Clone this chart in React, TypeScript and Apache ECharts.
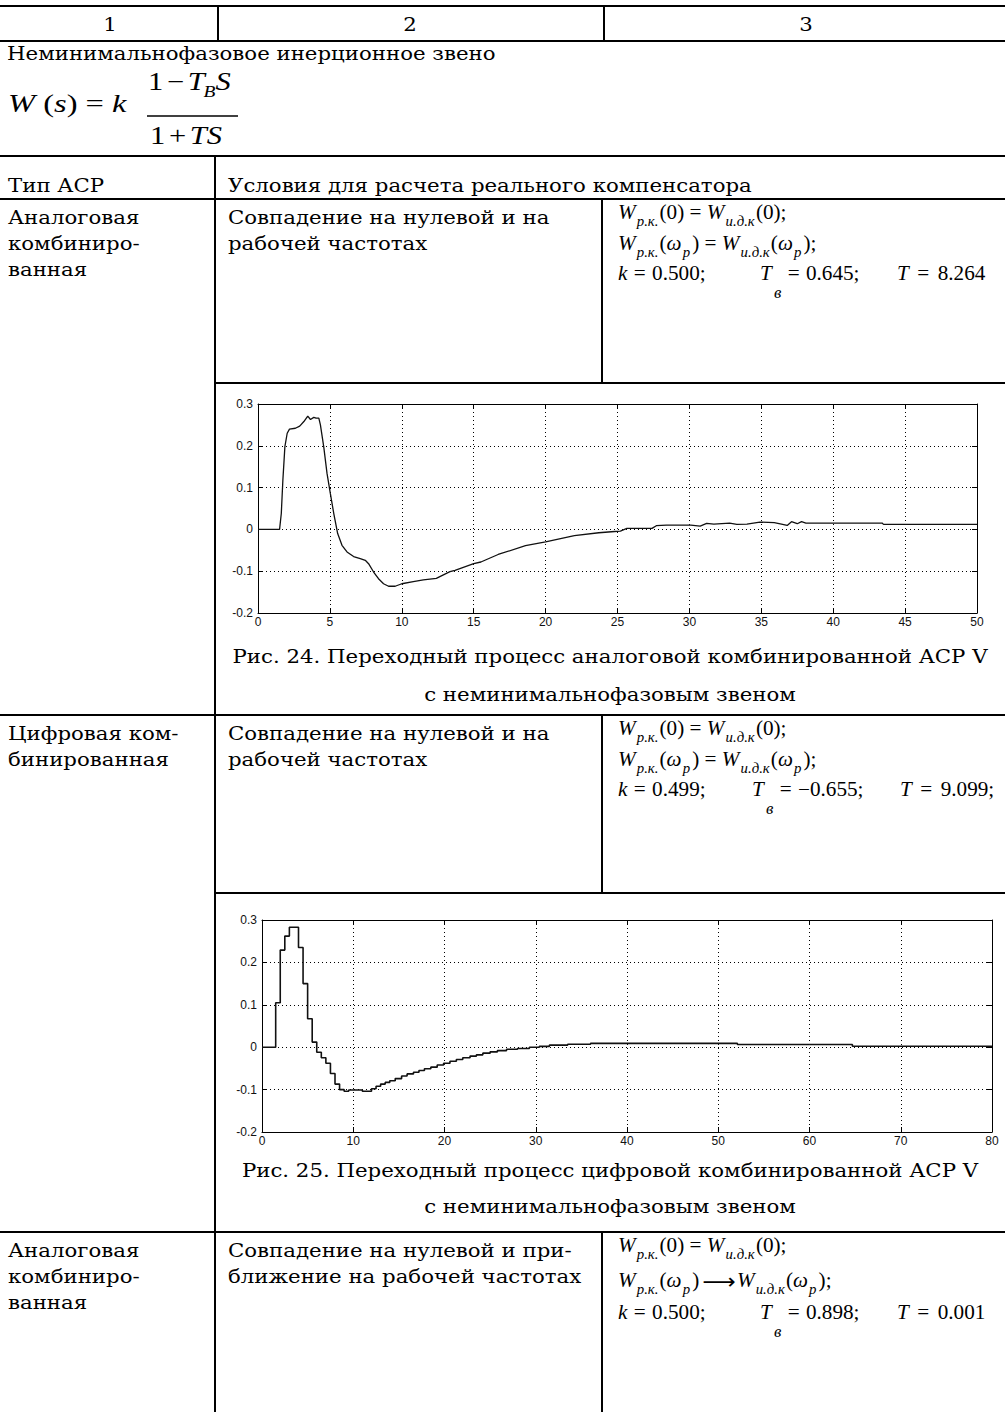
import React, { useEffect, useRef } from 'react';
import * as echarts from 'echarts';

// ---------- texts ----------
const headerNumbers = ['1', '2', '3'];
const sectionTitle = 'Неминимальнофазовое инерционное звено';
const colHeaders = ['Тип АСР', 'Условия для расчета реального компенсатора'];
const row1Type = ['Аналоговая', 'комбиниро-', 'ванная'];
const row1Cond = ['Совпадение на нулевой и на', 'рабочей частотах'];
const row2Type = ['Цифровая ком-', 'бинированная'];
const row2Cond = ['Совпадение на нулевой и на', 'рабочей частотах'];
const row3Type = ['Аналоговая', 'комбиниро-', 'ванная'];
const row3Cond = ['Совпадение на нулевой и при-', 'ближение на рабочей частотах'];
const caption1 = ['Рис. 24. Переходный процесс аналоговой комбинированной АСР V', 'с неминимальнофазовым звеном'];
const caption2 = ['Рис. 25. Переходный процесс цифровой комбинированной АСР V', 'с неминимальнофазовым звеном'];
const row1Params = ['0.500', '0.645', '8.264'];
const row2Params = ['0.499', '−0.655', '9.099;'];
const row3Params = ['0.500', '0.898', '0.001'];

// ---------- chart data ----------
const chart1XTicks = [0, 5, 10, 15, 20, 25, 30, 35, 40, 45, 50];
const chart1YTicks = [-0.2, -0.1, 0, 0.1, 0.2, 0.3];
const chart2XTicks = [0, 10, 20, 30, 40, 50, 60, 70, 80];
const chart2YTicks = [-0.2, -0.1, 0, 0.1, 0.2, 0.3];

// analog transient: [t, y]
const chart1Points: [number, number][] = [
  [0, 0], [1.5, 0], [1.62, 0.038], [1.73, 0.118], [1.87, 0.198], [2.03, 0.23], [2.19, 0.24],
  [2.6, 0.242], [2.9, 0.247], [3.19, 0.258], [3.46, 0.271], [3.65, 0.263], [3.88, 0.268],
  [4.04, 0.266], [4.23, 0.266], [4.34, 0.25], [4.57, 0.198], [4.8, 0.134], [5.03, 0.086],
  [5.27, 0.038], [5.54, -0.01], [5.84, -0.038], [6.19, -0.054], [6.65, -0.065], [7.11, -0.07],
  [7.46, -0.074], [7.69, -0.082], [8.04, -0.102], [8.38, -0.118], [8.73, -0.13], [9.08, -0.136],
  [9.54, -0.136], [10.0, -0.13], [10.8, -0.125], [11.5, -0.121], [12.4, -0.117], [13.35, -0.101],
  [13.7, -0.098], [15.0, -0.082], [15.5, -0.078], [16.7, -0.06], [18.6, -0.039], [20.0, -0.03],
  [22.0, -0.015], [23.7, -0.008], [24.8, -0.005], [25.2, -0.004], [25.65, 0.0024], [27.4, 0.0024],
  [27.7, 0.0088], [28.4, 0.0104], [30.1, 0.0104], [30.75, 0.008], [31.2, 0.0144], [31.7, 0.0128],
  [32.8, 0.015], [33.3, 0.012], [34.0, 0.0128], [34.9, 0.0176], [35.9, 0.016], [36.4, 0.0128],
  [36.8, 0.0096], [37.1, 0.0184], [37.5, 0.0136], [37.8, 0.0184], [38.1, 0.0152], [43.4, 0.0152],
  [43.5, 0.012], [50, 0.012],
];

// digital transient (zero-order hold): value held from t to next t
const chart2Points: [number, number][] = [
  [0, 0], [1.5, 0.105], [2.0, 0.229], [2.5, 0.262], [3.0, 0.283], [4.0, 0.235], [4.5, 0.15],
  [5.0, 0.067], [5.5, 0.012], [6.0, -0.012], [6.5, -0.025], [7.0, -0.038], [7.5, -0.062],
  [8.0, -0.087], [8.5, -0.1], [9.0, -0.104], [9.5, -0.101], [11.0, -0.104], [12.0, -0.098],
  [12.5, -0.092], [13.0, -0.087], [13.5, -0.083], [14.0, -0.079], [14.6, -0.074], [15.3, -0.068],
  [15.9, -0.063], [16.6, -0.059], [17.2, -0.055], [17.8, -0.051], [18.5, -0.047], [19.2, -0.042],
  [19.9, -0.038], [20.6, -0.033], [21.3, -0.029], [22.0, -0.025], [22.8, -0.021], [23.5, -0.018],
  [24.2, -0.014], [25.0, -0.011], [25.8, -0.008], [26.8, -0.005], [28.0, -0.003], [29.3, 0.0],
  [30.4, 0.002], [31.5, 0.005], [33.5, 0.007], [36.0, 0.009], [52.1, 0.0063], [64.7, 0.0024],
  [80, 0.0024],
];

// ---------- helpers ----------
const BODY_FONT = '"DejaVu Serif", serif';
const MATH_FONT = '"Liberation Serif", "Times New Roman", serif';
let measureCtx: CanvasRenderingContext2D | null = null;
function tw(text: string, font: string): number {
  if (!measureCtx) measureCtx = document.createElement('canvas').getContext('2d');
  if (!measureCtx) return text.length * 10;
  measureCtx.font = font;
  return measureCtx.measureText(text).width;
}

function textEl(x: number, y: number, text: string, font: string, align: string, sx: number) {
  return {
    type: 'text',
    x,
    y,
    scaleX: sx,
    silent: true,
    style: {
      text,
      font,
      fill: '#000',
      textAlign: align,
      align,
      textVerticalAlign: 'middle',
      verticalAlign: 'middle',
    },
  };
}

function lineEl(x1: number, y1: number, x2: number, y2: number, w = 2) {
  return { type: 'line', silent: true, shape: { x1, y1, x2, y2 }, style: { stroke: '#000', lineWidth: w } };
}

type Part = { t: string; it?: boolean; sub?: boolean; gap?: number; size?: number; dy?: number; family?: string };

function formula(x0: number, yc: number, parts: Part[], size: number, subSize: number, subDy: number, sx: number) {
  let cx = 0;
  const children: any[] = [];
  for (const p of parts) {
    cx += p.gap || 0;
    const fs = p.size || (p.sub ? subSize : size);
    const font = `${p.it ? 'italic ' : ''}${fs}px ${p.family || MATH_FONT}`;
    const dy = p.dy !== undefined ? p.dy : p.sub ? subDy : 0;
    children.push({
      type: 'text',
      x: cx,
      y: dy,
      silent: true,
      style: { text: p.t, font, fill: '#000', textAlign: 'left', align: 'left', textVerticalAlign: 'middle', verticalAlign: 'middle' },
    });
    cx += tw(p.t, font);
  }
  return { type: 'group', x: x0, y: yc, scaleX: sx, children };
}

const SF = 1.06; // horizontal stretch of formulas
const FS = 20;
const FSUB = 14;

function rowFormulas(top: number, params: string[], arrow: boolean, l3: number[]) {
  const els: any[] = [];
  const x0 = 618;
  els.push(
    formula(x0, top + 13, [
      { t: 'W', it: true }, { t: 'р.к.', it: true, sub: true, gap: 1 }, { t: '(0)', gap: 1 }, { t: ' = ' },
      { t: 'W', it: true }, { t: 'и.д.к', it: true, sub: true, gap: 1 }, { t: '(0);', gap: 1 },
    ], FS, FSUB, 9, SF),
  );
  const rel: Part = arrow
    ? { t: '⟶', family: '"DejaVu Sans", sans-serif', size: 22, gap: 3, dy: 1 }
    : { t: ' = ' };
  els.push(
    formula(x0, top + (arrow ? 48 : 44), [
      { t: 'W', it: true }, { t: 'р.к.', it: true, sub: true, gap: 1 }, { t: '(', gap: 1 }, { t: 'ω', it: true },
      { t: 'р', it: true, sub: true, gap: 1 }, { t: ')', gap: 2 }, rel,
      { t: 'W', it: true, gap: arrow ? 1 : 0 }, { t: 'и.д.к', it: true, sub: true, gap: 1 }, { t: '(', gap: 1 }, { t: 'ω', it: true },
      { t: 'р', it: true, sub: true, gap: 1 }, { t: ');', gap: 2 },
    ], FS, FSUB, 9, SF),
  );
  const y3 = top + (arrow ? 80 : 74);
  els.push(formula(l3[0], y3, [{ t: 'k', it: true }, { t: '=', gap: 6 }, { t: params[0] + ';', gap: 6 }], FS, FSUB, 9, SF));
  els.push(
    formula(l3[1], y3, [{ t: 'T', it: true }, { t: 'в', it: true, sub: true, size: 16, dy: 20, gap: 2 }, { t: '=', gap: 6 }, { t: params[1] + ';', gap: 6 }], FS, FSUB, 9, SF),
  );
  els.push(formula(l3[2], y3, [{ t: 'T', it: true }, { t: '=', gap: 8 }, { t: params[2], gap: 8 }], FS, FSUB, 9, SF));
  return els;
}

function buildOption() {
  const bodySize = 18;
  const bodyFont = `${bodySize}px ${BODY_FONT}`;
  let SB = 282 / tw('Условия для расчета реа', bodyFont);
  if (!isFinite(SB) || SB < 0.85 || SB > 1.5) SB = 1.12;

  const g: any[] = [];
  // table lines
  g.push(lineEl(0, 6, 1005, 6));
  g.push(lineEl(0, 41, 1005, 41));
  g.push(lineEl(218, 6, 218, 41));
  g.push(lineEl(604, 6, 604, 41));
  g.push(lineEl(0, 156, 1005, 156));
  g.push(lineEl(0, 199, 1005, 199));
  g.push(lineEl(215, 156, 215, 1412));
  g.push(lineEl(602, 199, 602, 383));
  g.push(lineEl(215, 383, 1005, 383));
  g.push(lineEl(0, 715, 1005, 715));
  g.push(lineEl(602, 715, 602, 893));
  g.push(lineEl(215, 893, 1005, 893));
  g.push(lineEl(0, 1232, 1005, 1232));
  g.push(lineEl(602, 1232, 602, 1412));

  // header numbers
  const hx = [110, 410, 806];
  headerNumbers.forEach((t, i) => g.push(textEl(hx[i], 25, t, bodyFont, 'center', SB)));
  g.push(textEl(7, 54, sectionTitle, bodyFont, 'left', SB));

  // W(s) formula
  const WS = 25;
  g.push(
    formula(8, 103, [
      { t: 'W', it: true }, { t: ' (', gap: 0 }, { t: 's', it: true }, { t: ') = ' }, { t: 'k', it: true },
    ], WS, 16, 10, 1.3),
  );
  g.push(
    formula(148, 81, [
      { t: '1' }, { t: '−', gap: 3 }, { t: 'T', it: true, gap: 3 }, { t: 'B', it: true, sub: true, size: 16, dy: 11, gap: -1 }, { t: 'S', it: true, gap: 0 },
    ], WS, 16, 11, 1.22),
  );
  g.push(lineEl(147, 116, 238, 116, 1.3));
  g.push(
    formula(150, 135, [{ t: '1' }, { t: '+', gap: 3 }, { t: 'T', it: true, gap: 3 }, { t: 'S', it: true, gap: 0 }], WS, 16, 11, 1.22),
  );

  g.push(textEl(8, 186, colHeaders[0], bodyFont, 'left', SB));
  g.push(textEl(228, 186, colHeaders[1], bodyFont, 'left', SB));

  // row 1
  const lh = 26;
  row1Type.forEach((t, i) => g.push(textEl(8, 218 + i * lh, t, bodyFont, 'left', SB)));
  row1Cond.forEach((t, i) => g.push(textEl(228, 218 + i * lh, t, bodyFont, 'left', SB)));
  g.push(...rowFormulas(199, row1Params, false, [618, 760, 897]));
  g.push(textEl(610, 657, caption1[0], bodyFont, 'center', SB));
  g.push(textEl(610, 695, caption1[1], bodyFont, 'center', SB));

  // row 2
  row2Type.forEach((t, i) => g.push(textEl(8, 734 + i * lh, t, bodyFont, 'left', SB)));
  row2Cond.forEach((t, i) => g.push(textEl(228, 734 + i * lh, t, bodyFont, 'left', SB)));
  g.push(...rowFormulas(715, row2Params, false, [618, 752, 900]));
  g.push(textEl(610, 1171, caption2[0], bodyFont, 'center', SB));
  g.push(textEl(610, 1207, caption2[1], bodyFont, 'center', SB));

  // row 3
  row3Type.forEach((t, i) => g.push(textEl(8, 1251 + i * lh, t, bodyFont, 'left', SB)));
  row3Cond.forEach((t, i) => g.push(textEl(228, 1251 + i * lh, t, bodyFont, 'left', SB)));
  g.push(...rowFormulas(1232, row3Params, true, [618, 760, 897]));

  // axes
  const labelStyle = { color: '#111', fontSize: 12, fontFamily: '"Liberation Sans", Arial, sans-serif' };
  const fmt1 = (v: number) => {
    const r = Math.round(v * 10) / 10;
    return r === 0 ? '0' : String(r);
  };
  const xAxes: any[] = [];
  const yAxes: any[] = [];
  const mk = (gi: number, xt: number[], yt: number[]) => {
    const xr = { min: xt[0], max: xt[xt.length - 1], interval: xt[1] - xt[0] };
    const yr = { min: yt[0], max: yt[yt.length - 1], interval: Math.round((yt[1] - yt[0]) * 10) / 10 };
    const line = { show: true, onZero: false, lineStyle: { color: '#000', width: 1 } };
    const tick = { show: true, inside: true, length: 5, lineStyle: { color: '#000', width: 1 } };
    const split = { show: true, lineStyle: { color: '#000', width: 1, type: [1, 3] } };
    xAxes.push({ type: 'value', gridIndex: gi, position: 'bottom', ...xr, axisLine: line, axisTick: tick, splitLine: split, axisLabel: { ...labelStyle, margin: 3 } });
    xAxes.push({ type: 'value', gridIndex: gi, position: 'top', ...xr, axisLine: line, axisTick: tick, splitLine: { show: false }, axisLabel: { show: false } });
    yAxes.push({ type: 'value', gridIndex: gi, position: 'left', ...yr, axisLine: line, axisTick: tick, splitLine: split, axisLabel: { ...labelStyle, margin: 5, formatter: fmt1 } });
    yAxes.push({ type: 'value', gridIndex: gi, position: 'right', ...yr, axisLine: line, axisTick: tick, splitLine: { show: false }, axisLabel: { show: false } });
  };
  mk(0, chart1XTicks, chart1YTicks);
  mk(1, chart2XTicks, chart2YTicks);

  return {
    animation: false,
    backgroundColor: '#fff',
    grid: [
      { left: 258, top: 404, width: 719, height: 209, containLabel: false },
      { left: 262, top: 920, width: 730, height: 212, containLabel: false },
    ],
    xAxis: xAxes,
    yAxis: yAxes,
    series: [
      {
        type: 'line', xAxisIndex: 0, yAxisIndex: 0, data: chart1Points, showSymbol: false, symbol: 'none',
        lineStyle: { color: '#111', width: 1.3 }, silent: true,
      },
      {
        type: 'line', xAxisIndex: 2, yAxisIndex: 2, data: chart2Points, step: 'end', showSymbol: false, symbol: 'none',
        lineStyle: { color: '#111', width: 1.6 }, silent: true,
      },
    ],
    graphic: { elements: g },
  };
}

export default function App() {
  const ref = useRef<HTMLDivElement>(null);
  useEffect(() => {
    if (!ref.current) return;
    const chart = echarts.init(ref.current, null, { renderer: 'svg' });
    chart.setOption(buildOption() as any);
    return () => chart.dispose();
  }, []);
  return (
    <div
      ref={ref}
      style={{ position: 'absolute', left: 0, top: 0, width: 1005, height: 1412, background: '#fff' }}
    />
  );
}
